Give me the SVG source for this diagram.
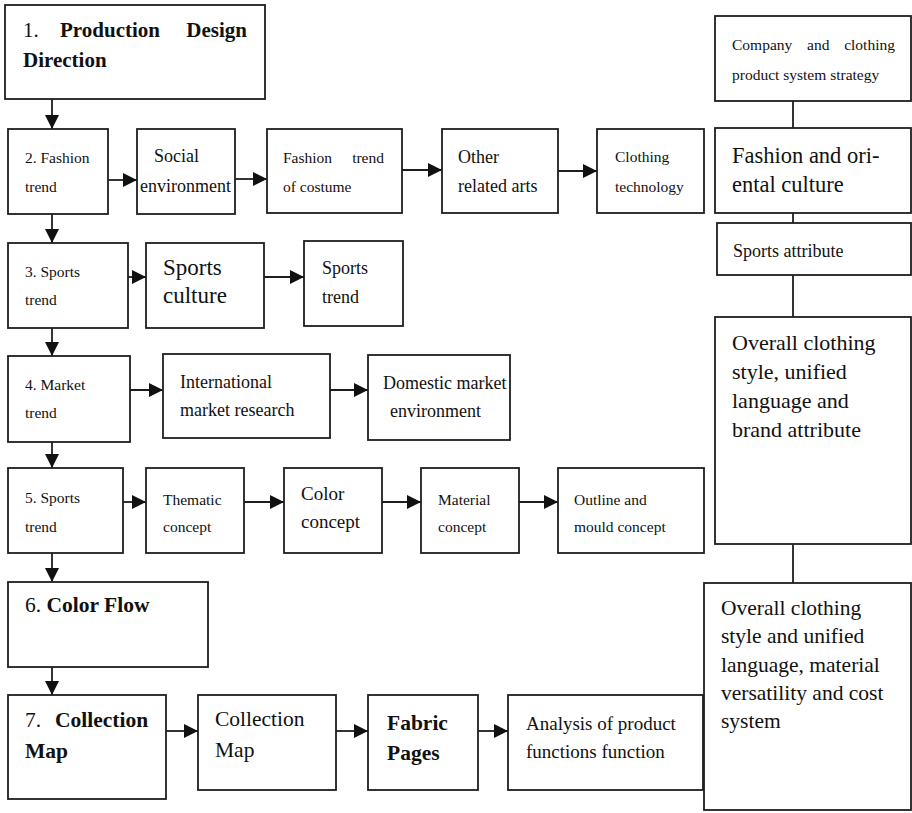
<svg xmlns="http://www.w3.org/2000/svg" width="912" height="813" viewBox="0 0 912 813">
  <style>
    rect { fill: #fff; stroke: #1e1e1e; stroke-width: 1.8; }
    .c { fill: none; stroke: #1e1e1e; stroke-width: 1.8; }
    text { font-family: "Liberation Serif", "Times New Roman", serif; fill: #111; }
    .b { font-weight: bold; }
    .s { font-size: 15.5px; }
    .m { font-size: 18px; }
    .l { font-size: 21.5px; }
  </style>
  <defs>
    <marker id="ah" markerUnits="userSpaceOnUse" markerWidth="14" markerHeight="14" viewBox="0 0 14 14" refX="14" refY="7" orient="auto">
      <path d="M0,0 L14,7 L0,14 z" fill="#111"/>
    </marker>
  </defs>
  <rect x="0" y="0" width="912" height="813" style="fill:#fff;stroke:none"/>

  <!-- connectors -->
  <g id="connectors">
    <!-- main vertical chain -->
    <path class="c" d="M52,99 V129" marker-end="url(#ah)"/>
    <path class="c" d="M52,214 V243" marker-end="url(#ah)"/>
    <path class="c" d="M52,328 V356" marker-end="url(#ah)"/>
    <path class="c" d="M52,442 V468" marker-end="url(#ah)"/>
    <path class="c" d="M52,553 V582" marker-end="url(#ah)"/>
    <path class="c" d="M52,667 V695" marker-end="url(#ah)"/>
    <!-- row 2 -->
    <path class="c" d="M108,180 H137" marker-end="url(#ah)"/>
    <path class="c" d="M235,179 H267" marker-end="url(#ah)"/>
    <path class="c" d="M402,170 H442" marker-end="url(#ah)"/>
    <path class="c" d="M558,171 H597" marker-end="url(#ah)"/>
    <!-- row 3 -->
    <path class="c" d="M128,277 H146" marker-end="url(#ah)"/>
    <path class="c" d="M264,277 H304" marker-end="url(#ah)"/>
    <!-- row 4 -->
    <path class="c" d="M130,390 H163" marker-end="url(#ah)"/>
    <path class="c" d="M330,390 H368" marker-end="url(#ah)"/>
    <!-- row 5 -->
    <path class="c" d="M123,502 H146" marker-end="url(#ah)"/>
    <path class="c" d="M244,502 H284" marker-end="url(#ah)"/>
    <path class="c" d="M382,502 H421" marker-end="url(#ah)"/>
    <path class="c" d="M519,502 H558" marker-end="url(#ah)"/>
    <!-- row 7 -->
    <path class="c" d="M166,731 H198" marker-end="url(#ah)"/>
    <path class="c" d="M336,731 H368" marker-end="url(#ah)"/>
    <path class="c" d="M478,731 H508" marker-end="url(#ah)"/>
    <!-- right column links -->
    <path class="c" d="M793,101 V128"/>
    <path class="c" d="M793,213 V223"/>
    <path class="c" d="M793,275 V317"/>
    <path class="c" d="M793,544 V583"/>
  </g>

  <g id="n1">
    <rect x="5" y="5" width="260" height="94"/>
    <text class="l" x="23" y="37" style="font-size:21px">1.</text>
    <text class="b" x="60" y="37" style="font-size:21px">Production</text>
    <text class="b" x="247" y="37" text-anchor="end" style="font-size:21px">Design</text>
    <text class="b" x="23" y="67" style="font-size:21px">Direction</text>
  </g>

  <g id="n2">
    <rect x="8" y="129" width="100" height="85"/>
    <text class="s" x="25" y="163">2. Fashion</text>
    <text class="s" x="25" y="192">trend</text>
  </g>
  <g id="n2a">
    <rect x="137" y="129" width="98" height="85"/>
    <text class="m" x="154" y="162">Social</text>
    <text class="m" x="140" y="192">environment</text>
  </g>
  <g id="n2b">
    <rect x="267" y="129" width="135" height="84"/>
    <text class="s" x="283" y="163">Fashion</text>
    <text class="s" x="384" y="163" text-anchor="end">trend</text>
    <text class="s" x="283" y="192">of costume</text>
  </g>
  <g id="n2c">
    <rect x="442" y="129" width="116" height="84"/>
    <text class="m" x="458" y="163">Other</text>
    <text class="m" x="458" y="192">related arts</text>
  </g>
  <g id="n2d">
    <rect x="597" y="129" width="107" height="84"/>
    <text class="s" x="615" y="162">Clothing</text>
    <text class="s" x="615" y="192">technology</text>
  </g>

  <g id="n3">
    <rect x="8" y="243" width="120" height="85"/>
    <text class="s" x="25" y="277">3. Sports</text>
    <text class="s" x="25" y="305">trend</text>
  </g>
  <g id="n3a">
    <rect x="146" y="243" width="118" height="85"/>
    <text x="163" y="275" style="font-size:23px">Sports</text>
    <text x="163" y="303" style="font-size:23px">culture</text>
  </g>
  <g id="n3b">
    <rect x="304" y="241" width="99" height="85"/>
    <text class="m" x="322" y="274">Sports</text>
    <text class="m" x="322" y="303">trend</text>
  </g>

  <g id="n4">
    <rect x="8" y="356" width="122" height="86"/>
    <text class="s" x="25" y="390">4. Market</text>
    <text class="s" x="25" y="418">trend</text>
  </g>
  <g id="n4a">
    <rect x="163" y="354" width="167" height="84"/>
    <text class="m" x="180" y="388">International</text>
    <text class="m" x="180" y="416">market research</text>
  </g>
  <g id="n4b">
    <rect x="368" y="355" width="142" height="85"/>
    <text class="m" x="383" y="389">Domestic market</text>
    <text class="m" x="390" y="417">environment</text>
  </g>

  <g id="n5">
    <rect x="8" y="468" width="115" height="85"/>
    <text class="s" x="25" y="503">5. Sports</text>
    <text class="s" x="25" y="532">trend</text>
  </g>
  <g id="n5a">
    <rect x="146" y="468" width="98" height="85"/>
    <text class="s" x="163" y="505">Thematic</text>
    <text class="s" x="163" y="532">concept</text>
  </g>
  <g id="n5b">
    <rect x="284" y="468" width="98" height="85"/>
    <text x="301" y="500" style="font-size:19px">Color</text>
    <text x="301" y="528" style="font-size:19px">concept</text>
  </g>
  <g id="n5c">
    <rect x="421" y="468" width="98" height="85"/>
    <text class="s" x="438" y="505">Material</text>
    <text class="s" x="438" y="532">concept</text>
  </g>
  <g id="n5d">
    <rect x="558" y="468" width="146" height="85"/>
    <text class="s" x="574" y="505">Outline and</text>
    <text class="s" x="574" y="532">mould concept</text>
  </g>

  <g id="n6">
    <rect x="8" y="582" width="200" height="85"/>
    <text class="l" x="25" y="612">6. <tspan class="b">Color Flow</tspan></text>
  </g>

  <g id="n7">
    <rect x="8" y="695" width="158" height="104"/>
    <text class="l" x="25" y="727">7.</text>
    <text class="l b" x="55" y="727">Collection</text>
    <text class="l b" x="25" y="758">Map</text>
  </g>
  <g id="n7a">
    <rect x="198" y="695" width="138" height="95"/>
    <text class="l" x="215" y="726">Collection</text>
    <text class="l" x="215" y="757">Map</text>
  </g>
  <g id="n7b">
    <rect x="368" y="695" width="110" height="95"/>
    <text class="l b" x="387" y="730">Fabric</text>
    <text class="l b" x="387" y="760">Pages</text>
  </g>
  <g id="n7c">
    <rect x="508" y="695" width="195" height="95"/>
    <text x="526" y="730" style="font-size:19px">Analysis of product</text>
    <text x="526" y="758" style="font-size:19px">functions function</text>
  </g>

  <g id="r1">
    <rect x="715" y="16" width="196" height="85"/>
    <text class="s" x="732" y="50">Company</text>
    <text class="s" x="807" y="50">and</text>
    <text class="s" x="895" y="50" text-anchor="end">clothing</text>
    <text class="s" x="732" y="80">product system strategy</text>
  </g>
  <g id="r2">
    <rect x="715" y="128" width="196" height="85"/>
    <text x="732" y="163" style="font-size:22.5px">Fashion and ori-</text>
    <text x="732" y="192" style="font-size:22.5px">ental culture</text>
  </g>
  <g id="r3">
    <rect x="717" y="223" width="194" height="52"/>
    <text class="m" x="733" y="257">Sports attribute</text>
  </g>
  <g id="r4">
    <rect x="715" y="317" width="196" height="227"/>
    <text x="732" y="350" style="font-size:22px">Overall clothing</text>
    <text x="732" y="379" style="font-size:22px">style, unified</text>
    <text x="732" y="408" style="font-size:22px">language and</text>
    <text x="732" y="437" style="font-size:22px">brand attribute</text>
  </g>
  <g id="r5">
    <rect x="704" y="583" width="207" height="227"/>
    <text class="l" x="721" y="615">Overall clothing</text>
    <text class="l" x="721" y="643">style and unified</text>
    <text class="l" x="721" y="672">language, material</text>
    <text class="l" x="721" y="700">versatility and cost</text>
    <text class="l" x="721" y="728">system</text>
  </g>
</svg>
